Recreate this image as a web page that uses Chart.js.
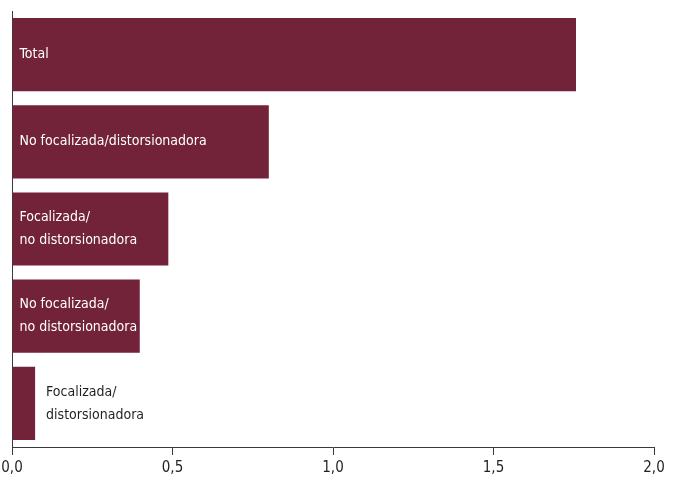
<!DOCTYPE html>
<html>
<head>
<meta charset="utf-8">
<script src="https://cdn.jsdelivr.net/npm/chart.js@4"></script>
<style>
  html, body { margin: 0; padding: 0; background: #fff; }
  #wrap { width: 673px; height: 480px; }
</style>
</head>
<body>
<div id="wrap"><canvas id="c" width="673" height="480"></canvas></div>
<script>
const categories = [
  ["Total"],
  ["No focalizada/distorsionadora"],
  ["Focalizada/", "no distorsionadora"],
  ["No focalizada/", "no distorsionadora"],
  ["Focalizada/", "distorsionadora"]
];
const values = [1.757, 0.80, 0.487, 0.398, 0.072];
const tickValues = [0, 0.5, 1.0, 1.5, 2.0];

const FONT = "'Liberation Sans Narrow', 'DejaVu Sans Condensed', 'Roboto Condensed', sans-serif";
const BAR = '#722239';

const inBarLabels = {
  id: 'inBarLabels',
  afterDatasetsDraw(chart) {
    const ctx = chart.ctx;
    const meta = chart.getDatasetMeta(0);
    ctx.save();
    ctx.font = '14px ' + FONT;
    ctx.textBaseline = 'middle';
    ctx.textAlign = 'left';
    const lh = 23;
    meta.data.forEach((bar, i) => {
      const lines = categories[i];
      const barW = bar.x - bar.base;
      let x, color;
      if (barW > 60) { x = bar.base + 7; color = '#ffffff'; }
      else { x = bar.x + 11; color = '#231f20'; }
      ctx.fillStyle = color;
      const y0 = bar.y - (lines.length - 1) * lh / 2;
      lines.forEach((l, k) => ctx.fillText(l, x, y0 + k * lh));
    });
    ctx.restore();
  }
};

new Chart(document.getElementById('c'), {
  type: 'bar',
  data: {
    labels: categories.map(c => c.join(' ')),
    datasets: [{
      data: values,
      backgroundColor: BAR,
      borderWidth: 0,
      barPercentage: 0.84,
      categoryPercentage: 1.0
    }]
  },
  options: {
    indexAxis: 'y',
    responsive: false,
    animation: false,
    devicePixelRatio: 1,
    layout: { padding: { top: 11, right: 19, left: 0, bottom: 0 } },
    plugins: { legend: { display: false }, tooltip: { enabled: false } },
    scales: {
      x: {
        min: 0, max: 2.0,
        afterBuildTicks(axis) { axis.ticks = tickValues.map(v => ({ value: v })); },
        afterFit(axis) { axis.height = 33; axis.paddingLeft = 0; axis.paddingRight = 0; },
        ticks: {
          color: '#231f20',
          font: { family: FONT, size: 15 },
          padding: 4,
          maxRotation: 0,
          callback: v => Number(v).toFixed(1).replace('.', ',')
        },
        grid: { drawOnChartArea: false, drawTicks: true, tickLength: 8, color: '#3a3a3a', lineWidth: 1 },
        border: { display: true, color: '#3a3a3a', width: 1 }
      },
      y: {
        afterFit(axis) { axis.width = 12; axis.paddingTop = 0; axis.paddingBottom = 0; },
        ticks: { display: false },
        grid: { display: false, drawTicks: false },
        border: { display: true, color: '#3a3a3a', width: 1 }
      }
    }
  },
  plugins: [inBarLabels]
});
</script>
</body>
</html>
